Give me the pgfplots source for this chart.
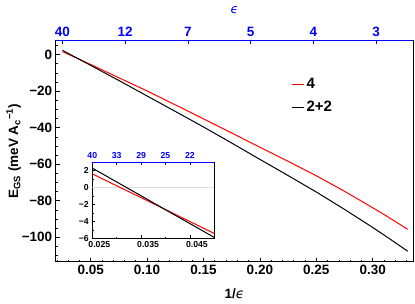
\documentclass[border=0pt]{standalone}
\usepackage{fontspec}
\setmainfont{Liberation Sans}
\newfontfamily\dejavu{DejaVu Sans}
\usepackage{pgfplots}
\usepackage{pgfplotstable}
\pgfplotsset{compat=1.18}
\definecolor{mblue}{RGB}{0,0,255}
\newcommand{\eps}{{\dejavu\itshape\mdseries ϵ}}

\pgfplotstableread{
x y
0.025 1.63
0.030 0.22
0.035 -1.19
0.040 -2.60
0.045 -4.02
0.050 -5.43
0.075 -12.7
0.100 -19.9
0.125 -27.5
0.150 -35.2
0.175 -42.9
0.200 -50.7
0.225 -58.4
0.250 -66.3
0.275 -74.8
0.300 -83.8
0.315 -89.4
0.331 -95.6
}\redtab

\pgfplotstableread{
x y
0.025 2.31
0.030 0.67
0.035 -0.97
0.040 -2.62
0.045 -4.26
0.050 -5.90
0.075 -14.2
0.100 -22.65
0.125 -31.1
0.150 -39.6
0.175 -48.4
0.200 -57.35
0.225 -66.2
0.250 -75.2
0.275 -84.7
0.300 -94.6
0.315 -100.8
0.331 -107.6
}\blacktab

\begin{document}
\begin{tikzpicture}[x=1pt,y=1pt]
\path[use as bounding box] (0,0) rectangle (415,304);
% main axis
\begin{axis}[
  at={(55.7pt,42pt)}, anchor=south west,
  scale only axis, width=357.6pt, height=221.5pt,
  xmin=0.019, xmax=0.336, ymin=-113.5, ymax=7.7,
  scaled x ticks=false, scaled y ticks=false,
  xtick={0.05,0.1,0.15,0.2,0.25,0.3},
  xticklabels={0.05,0.10,0.15,0.20,0.25,0.30},
  minor xtick={0.02,0.03,0.04,0.06,0.07,0.08,0.09,0.11,0.12,0.13,0.14,0.16,0.17,0.18,0.19,0.21,0.22,0.23,0.24,0.26,0.27,0.28,0.29,0.31,0.32,0.33},
  ytick={-100,-80,-60,-40,-20,0},
  yticklabels={−100,−80,−60,−40,−20,0},
  minor ytick={-110,-105,-95,-90,-85,-75,-70,-65,-55,-50,-45,-35,-30,-25,-15,-10,-5,5},
  xtick pos=bottom, ytick pos=left,
  tick align=inside,
  major tick length=4pt, minor tick length=2pt,
  tick style={black, line width=0.6pt},
  ticklabel style={font=\fontsize{13.5}{16}\selectfont\bfseries},
  axis line style={black, line width=1pt},
  xlabel={\textbf{1/}\eps},
  xlabel style={at={([yshift=-32pt]axis description cs:0.5,0)}, anchor=center, font=\fontsize{13.5}{16}\selectfont},
  ylabel={\textbf{E\textsubscript{GS} (meV A\textsubscript{c}\textsuperscript{−1})}},
  ylabel style={at={([xshift=-42pt]axis description cs:0,0.5)}, anchor=center, font=\fontsize{13.5}{16}\selectfont},
  legend style={draw=none, fill=none, at={(0.65,0.848)}, anchor=north west,
    font=\fontsize{15}{18}\selectfont\bfseries, row sep=7pt},
  legend cell align=left,
  legend image code/.code={\draw[#1, line width=1.3pt] (0pt,0pt) -- (12pt,0pt);},
]
\addplot[red, line width=1pt] table[x=x,y=y] {\redtab};
\addlegendentry{4}
\addplot[black, line width=1pt] table[x=x,y=y] {\blacktab};
\addlegendentry{2+2}
\end{axis}
% top epsilon axis
\begin{axis}[
  at={(55.7pt,42pt)}, anchor=south west,
  scale only axis, width=357.6pt, height=221.5pt,
  xmin=0.019, xmax=0.336, ymin=-113.5, ymax=7.7,
  scaled x ticks=false,
  axis x line*=top, axis y line=none,
  axis line style={-, mblue, line width=1pt},
  xtick={0.025,0.0806,0.1362,0.1918,0.2474,0.303},
  xticklabels={40,12,7,5,4,3},
  ytick=\empty,
  tick align=inside, major tick length=4pt,
  tick style={mblue, line width=0.6pt},
  ticklabel style={mblue, font=\fontsize{13.5}{16}\selectfont\bfseries},
  xlabel={\eps},
  xlabel style={mblue, at={([yshift=30.5pt]axis description cs:0.5,1)}, anchor=center, font=\fontsize{12.5}{15}\selectfont},
]
\addplot[draw=none] coordinates {(0.025,0)};
\end{axis}
% inset
\begin{axis}[
  at={(92.3pt,65.7pt)}, anchor=south west,
  scale only axis, width=122pt, height=76pt,
  xmin=0.025, xmax=0.05, ymin=-6, ymax=3,
  scaled x ticks=false, scaled y ticks=false,
  axis background/.style={fill=white},
  xtick={0.025,0.035,0.045},
  xticklabels={0.025,0.035,0.045},
  minor xtick={0.03,0.04},
  ytick={-6,-4,-2,0,2},
  yticklabels={−6,−4,−2,0,2},
  minor ytick={-5,-3,-1,1,3},
  xtick pos=bottom, ytick pos=left,
  tick align=inside,
  major tick length=3pt, minor tick length=1.5pt,
  tick style={black, line width=0.5pt},
  ticklabel style={font=\fontsize{8.7}{10}\selectfont\bfseries},
  xticklabel style={xshift=7pt},
  axis line style={black, line width=1pt},
]
\addplot[gray!25, line width=0.8pt] coordinates {(0.025,0) (0.05,0)};
\addplot[red, line width=1pt] table[x=x,y=y] {\redtab};
\addplot[black, line width=1pt] table[x=x,y=y] {\blacktab};
\end{axis}
\begin{axis}[
  at={(92.3pt,65.7pt)}, anchor=south west,
  scale only axis, width=122pt, height=76pt,
  xmin=0.025, xmax=0.05, ymin=-6, ymax=3,
  scaled x ticks=false,
  axis x line*=top, axis y line=none,
  axis line style={-, mblue, line width=1pt},
  xtick={0.025,0.03,0.035,0.04,0.045},
  xticklabels={40,33,29,25,22},
  ytick=\empty,
  tick align=inside, major tick length=3pt,
  tick style={mblue, line width=0.5pt},
  ticklabel style={mblue, font=\fontsize{8.7}{10}\selectfont\bfseries},
]
\addplot[draw=none] coordinates {(0.03,0)};
\end{axis}
\end{tikzpicture}
\end{document}
